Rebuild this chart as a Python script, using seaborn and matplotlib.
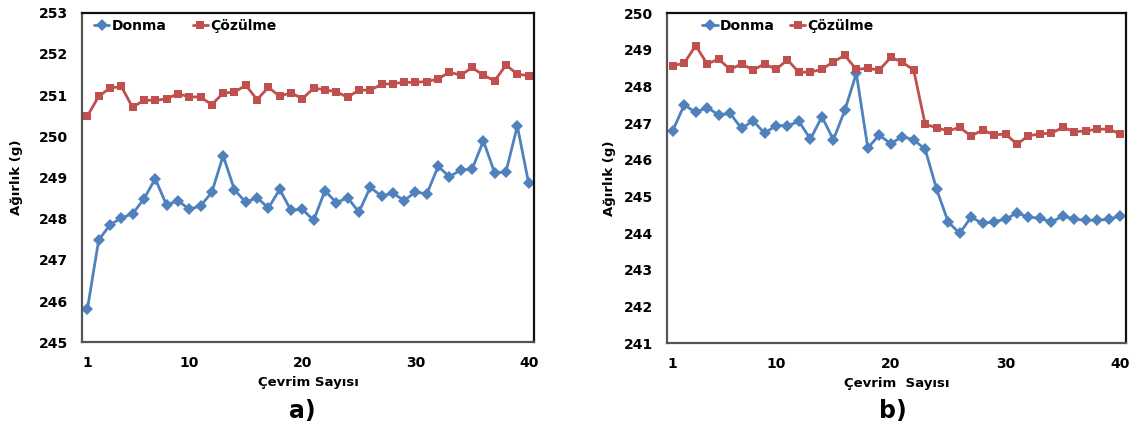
import numpy as np
import pandas as pd
import matplotlib as mpl
import matplotlib.pyplot as plt
import seaborn as sns
from matplotlib.ticker import FixedLocator, NullFormatter, FixedFormatter
mpl.use('Agg')

# cycle numbers (Çevrim Sayısı)
cycles = list(range(1, 41))

# panel a) weights (g)
a_donma = [245.80, 247.48, 247.85, 248.02, 248.12, 248.48, 248.97, 248.33, 248.44, 248.23,
           248.31, 248.64, 249.53, 248.70, 248.40, 248.51, 248.26, 248.71, 248.20, 248.23,
           247.96, 248.68, 248.39, 248.51, 248.16, 248.76, 248.55, 248.62, 248.44, 248.65,
           248.60, 249.27, 249.02, 249.18, 249.20, 249.89, 249.11, 249.14, 250.25, 248.86]
a_cozulme = [250.49, 250.97, 251.17, 251.21, 250.70, 250.88, 250.87, 250.91, 251.03, 250.96,
             250.95, 250.77, 251.05, 251.07, 251.24, 250.89, 251.19, 250.97, 251.06, 250.91,
             251.17, 251.13, 251.08, 250.95, 251.12, 251.12, 251.26, 251.28, 251.31, 251.31,
             251.33, 251.39, 251.56, 251.48, 251.67, 251.48, 251.35, 251.73, 251.51, 251.47]

# panel b) weights (g)
b_donma = [246.80, 247.50, 247.30, 247.43, 247.23, 247.27, 246.86, 247.07, 246.73, 246.94,
           246.93, 247.05, 246.57, 247.18, 246.55, 247.36, 248.36, 246.33, 246.68, 246.44,
           246.64, 246.55, 246.29, 245.20, 244.31, 244.00, 244.44, 244.27, 244.32, 244.38,
           244.56, 244.44, 244.41, 244.31, 244.47, 244.39, 244.35, 244.36, 244.38, 244.48]
b_cozulme = [248.57, 248.64, 249.12, 248.62, 248.75, 248.47, 248.62, 248.45, 248.62, 248.47,
             248.73, 248.39, 248.40, 248.47, 248.68, 248.85, 248.47, 248.50, 248.45, 248.80,
             248.67, 248.45, 246.97, 246.88, 246.79, 246.89, 246.65, 246.82, 246.68, 246.71,
             246.43, 246.66, 246.71, 246.73, 246.89, 246.77, 246.79, 246.84, 246.84, 246.71]

series_names = ['Donma', 'Çözülme']
xtick_labels = ['1', '10', '20', '30', '40']
xtick_pos = [1, 10, 20, 30, 40]

sns.set_style('white')
plt.rcParams['font.family'] = ['DejaVu Sans']
plt.rcParams['font.weight'] = 'bold'
plt.rcParams['text.color'] = 'black'
plt.rcParams['axes.labelcolor'] = 'black'
plt.rcParams['xtick.labelcolor'] = 'black'
plt.rcParams['ytick.labelcolor'] = 'black'

palette = {'Donma': '#4F81BD', 'Çözülme': '#C0504D'}
markers = {'Donma': 'D', 'Çözülme': 's'}


def make_df(donma, cozulme):
    return pd.DataFrame({
        'cycle': cycles * 2,
        'weight': donma + cozulme,
        'series': [series_names[0]] * len(donma) + [series_names[1]] * len(cozulme),
    })


def draw(ax, df, ylim, xlabel, legend_spacing):
    sns.lineplot(data=df, x='cycle', y='weight', hue='series', style='series',
                 palette=palette, markers=markers, dashes=False, linewidth=2,
                 markersize=6, markeredgewidth=0, ax=ax, sort=False)
    ax.set_xlim(0.5, 40.5)
    ax.set_ylim(*ylim)
    ax.yaxis.set_major_locator(FixedLocator(np.arange(ylim[0], ylim[1] + 1)))
    ax.set_yticklabels([str(v) for v in range(ylim[0], ylim[1] + 1)])
    ax.xaxis.set_major_locator(FixedLocator(np.arange(0.5, 41, 5)))
    ax.xaxis.set_major_formatter(NullFormatter())
    ax.xaxis.set_minor_locator(FixedLocator(xtick_pos))
    ax.xaxis.set_minor_formatter(FixedFormatter(xtick_labels))
    ax.tick_params(axis='x', which='major', direction='out', length=4, width=1, color='#999999')
    ax.tick_params(axis='x', which='minor', length=0, pad=10, labelsize=10)
    ax.tick_params(axis='y', which='major', direction='out', length=4, width=1,
                   color='#999999', pad=6, labelsize=10)
    for lab in ax.get_xticklabels(minor=True) + ax.get_yticklabels():
        lab.set_fontweight('bold')
    for s in ['top', 'right']:
        ax.spines[s].set_color('#111111')
        ax.spines[s].set_linewidth(1.6)
    for s in ['left', 'bottom']:
        ax.spines[s].set_color('#555555')
        ax.spines[s].set_linewidth(1.6)
    ax.set_xlabel(xlabel, fontsize=9.5, fontweight='bold', labelpad=4)
    ax.set_ylabel('Ağırlık (g)', fontsize=9.5, fontweight='bold')
    ax.legend(loc='upper left', bbox_to_anchor=(0.0, 1.0), frameon=False, ncol=2,
              handlelength=1.1, handletextpad=0.15, columnspacing=legend_spacing,
              prop={'weight': 'bold', 'size': 10}, borderaxespad=0.5)


fig = plt.figure(figsize=(11.36, 4.32), dpi=100)
ax1 = fig.add_axes([81.7 / 1136, 1 - 342.3 / 432, 452.6 / 1136, 329.6 / 432])
ax2 = fig.add_axes([667 / 1136, 1 - 343.3 / 432, 459 / 1136, 330 / 432])

draw(ax1, make_df(a_donma, a_cozulme), (245, 253), 'Çevrim Sayısı', 1.9)
draw(ax2, make_df(b_donma, b_cozulme), (241, 250), 'Çevrim  Sayısı', 1.1)
ax1.yaxis.set_label_coords(-0.13, 0.5)
ax2.yaxis.set_label_coords(-0.111, 0.5)

# legend placement as in the original
ax2.get_legend().set_bbox_to_anchor((0.05, 1.02))
ax1.get_legend().set_bbox_to_anchor((0.0, 1.02))

fig.text(302 / 1136, 1 - 411 / 432, 'a)', fontsize=17, fontweight='bold', ha='center', va='center')
fig.text(893 / 1136, 1 - 411 / 432, 'b)', fontsize=17, fontweight='bold', ha='center', va='center')

fig.savefig('out.png', dpi=100, facecolor='white')
